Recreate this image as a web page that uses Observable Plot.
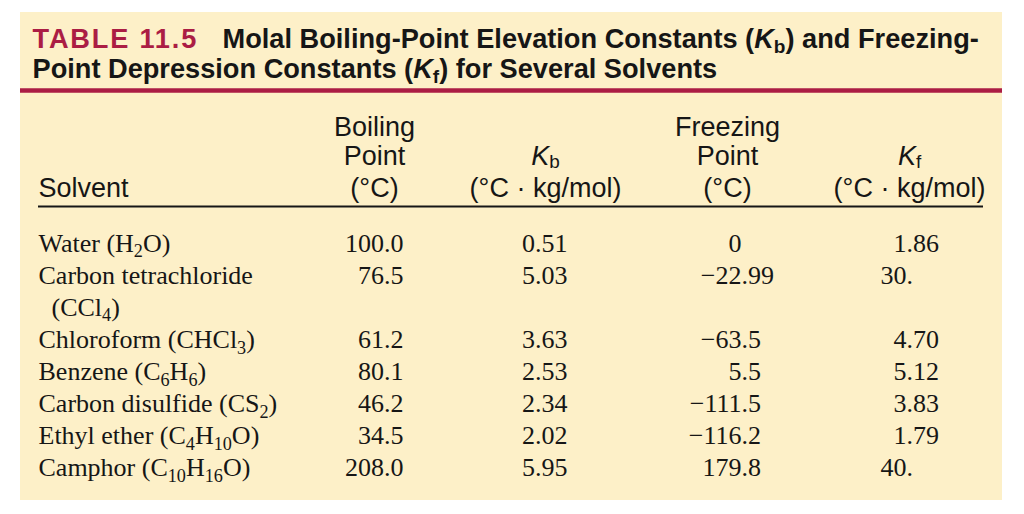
<!DOCTYPE html>
<html>
<head>
<meta charset="utf-8">
<script src="https://cdn.jsdelivr.net/npm/d3@7"></script>
<script src="https://cdn.jsdelivr.net/npm/@observablehq/plot@0.6"></script>
<style>
  html, body { margin: 0; padding: 0; background: #ffffff; }
  #chart svg { display: block; }
</style>
</head>
<body>
<div id="chart"></div>
<script>
// ---------------- data ----------------
const tableTag = "TABLE 11.5";
const titleLines = [
  "Molal Boiling-Point Elevation Constants (*K*_{b}) and Freezing-",
  "Point Depression Constants (*K*_{f}) for Several Solvents"
];
const headerSolvent = "Solvent";
const headerBoiling = ["Boiling", "Point", "(°C)"];
const headerKb = ["*K*_{b}", "(°C · kg/mol)"];
const headerFreezing = ["Freezing", "Point", "(°C)"];
const headerKf = ["*K*_{f}", "(°C · kg/mol)"];

const solvents = [
  "Water (H_{2}O)",
  "Carbon tetrachloride",
  "Chloroform (CHCl_{3})",
  "Benzene (C_{6}H_{6})",
  "Carbon disulfide (CS_{2})",
  "Ethyl ether (C_{4}H_{10}O)",
  "Camphor (C_{10}H_{16}O)"
];
const solventContinuation = [null, "(CCl_{4})", null, null, null, null, null];
const boilingPoint = ["100.0", "76.5", "61.2", "80.1", "46.2", "34.5", "208.0"];
const kbValues = ["0.51", "5.03", "3.63", "2.53", "2.34", "2.02", "5.95"];
const freezingPoint = ["0", "−22.99", "−63.5", "5.5", "−111.5", "−116.2", "179.8"];
const kfValues = ["1.86", "30.", "4.70", "5.12", "3.83", "1.79", "40."];

// ---------------- layout ----------------
const W = 1024, H = 514;
const cream = "#fdf0c8";
const crimson = "#ab1d44";
const ink = "#161616";
const sans = "'Liberation Sans', Arial, Helvetica, sans-serif";
const serif = "'Liberation Serif', 'Times New Roman', serif";
const panel = {x1: 20, x2: 1002, y1: 12, y2: 500};
const titleX = 32, titleRestX = 222, titleBase = [47, 77], titleSize = 27.2;
const redRule = {y: 90, x1: 20, x2: 1002};
const blackRule = {y: 206, x1: 38, x2: 983};
const headBase = [135, 164, 196], headSize = 27;
const colSolvent = 38, colBoilRight = 403, colKbRight = 567, colFreezeDec = 741, colKfDec = 906;
const headCenters = {boil: 374, kb: 545, freeze: 727, kf: 909};
const bodyFirst = 251, bodyStep = 32.1, bodySize = 26;

// line index of each solvent row (the CCl4 row wraps onto two lines)
const rowLine = [];
{
  let line = 0;
  solvents.forEach((s, i) => { rowLine.push(line); line += solventContinuation[i] ? 2 : 1; });
}
const baseOf = (line) => bodyFirst + line * bodyStep;

const rows = solvents.map((s, i) => ({
  name: s,
  cont: solventContinuation[i],
  bp: boilingPoint[i],
  kb: kbValues[i],
  fp: freezingPoint[i],
  kf: kfValues[i],
  y: baseOf(rowLine[i])
}));
const splitDec = (s) => {
  const k = s.indexOf(".");
  return k < 0 ? [s, ""] : [s.slice(0, k), s.slice(k)];
};
const contRows = rows.filter(d => d.cont).map(d => ({text: d.cont, y: d.y + bodyStep}));

const headerCentered = [
  ...headerBoiling.map((t, i) => ({text: t, x: headCenters.boil, y: headBase[i]})),
  ...headerKb.map((t, i) => ({text: t, x: headCenters.kb, y: headBase[i + 1]})),
  ...headerFreezing.map((t, i) => ({text: t, x: headCenters.freeze, y: headBase[i]})),
  ...headerKf.map((t, i) => ({text: t, x: headCenters.kf, y: headBase[i + 1]}))
];

const bodyText = (data, opts) => Plot.text(data, {
  lineAnchor: "bottom", fontFamily: serif, fontSize: bodySize, fill: ink, ...opts
});

const chart = Plot.plot({
  width: W, height: H,
  margin: 0,
  x: {type: "linear", domain: [0, W], range: [0, W], axis: null},
  y: {type: "linear", domain: [0, H], range: [0, H], axis: null},
  style: {background: "#ffffff", overflow: "visible"},
  marks: [
    Plot.rect([panel], {x1: "x1", x2: "x2", y1: "y1", y2: "y2", fill: cream}),
    Plot.ruleY([redRule], {y: "y", x1: "x1", x2: "x2", stroke: crimson, strokeWidth: 4.5}),
    Plot.ruleY([blackRule], {y: "y", x1: "x1", x2: "x2", stroke: ink, strokeWidth: 2}),
    // title
    Plot.text([tableTag], {x: () => titleX, y: () => titleBase[0], text: d => d, textAnchor: "start",
      lineAnchor: "bottom", fontFamily: sans, fontWeight: "bold", fontSize: titleSize, fill: crimson,
      className: "tag"}),
    Plot.text(titleLines, {x: (d, i) => i === 0 ? titleRestX : titleX, y: (d, i) => titleBase[i], text: d => d,
      textAnchor: "start", lineAnchor: "bottom", fontFamily: sans, fontWeight: "bold", fontSize: titleSize, fill: ink}),
    // header
    Plot.text([headerSolvent], {x: () => colSolvent, y: () => headBase[2], text: d => d, textAnchor: "start",
      lineAnchor: "bottom", fontFamily: sans, fontSize: headSize, fill: ink}),
    Plot.text(headerCentered, {x: "x", y: "y", text: "text", textAnchor: "middle",
      lineAnchor: "bottom", fontFamily: sans, fontSize: headSize, fill: ink, className: "head"}),
    // body
    bodyText(rows, {x: () => colSolvent, y: "y", text: "name", textAnchor: "start"}),
    bodyText(contRows, {x: () => colSolvent + 13, y: "y", text: "text", textAnchor: "start"}),
    bodyText(rows, {x: () => colBoilRight, y: "y", text: "bp", textAnchor: "end"}),
    bodyText(rows, {x: () => colKbRight, y: "y", text: "kb", textAnchor: "end"}),
    bodyText(rows, {x: () => colFreezeDec, y: "y", text: d => splitDec(d.fp)[0], textAnchor: "end"}),
    bodyText(rows, {x: () => colFreezeDec, y: "y", text: d => splitDec(d.fp)[1], textAnchor: "start"}),
    bodyText(rows, {x: () => colKfDec, y: "y", text: d => splitDec(d.kf)[0], textAnchor: "end"}),
    bodyText(rows, {x: () => colKfDec, y: "y", text: d => splitDec(d.kf)[1], textAnchor: "start"})
  ]
});

// turn *italic* and _{sub} markup into real tspans
const NS = "http://www.w3.org/2000/svg";
function richify(textEl, fs, shift) {
  const src = textEl.textContent;
  if (!/[*_]/.test(src)) return;
  const tokens = src.split(/(\*[^*]+\*|_\{[^}]*\})/).filter(t => t !== "");
  textEl.textContent = "";
  let pendingUp = 0;
  for (const t of tokens) {
    const ts = document.createElementNS(NS, "tspan");
    if (t.startsWith("_{")) {
      ts.textContent = t.slice(2, -1);
      ts.setAttribute("font-size", (fs * 0.7).toFixed(2));
      ts.setAttribute("dy", (fs * shift - pendingUp).toFixed(2));
      ts.setAttribute("font-style", "normal");
      pendingUp = fs * shift;
    } else {
      if (t.startsWith("*")) {
        ts.textContent = t.slice(1, -1);
        ts.setAttribute("font-style", "italic");
      } else {
        ts.textContent = t;
      }
      if (pendingUp) { ts.setAttribute("dy", (-pendingUp).toFixed(2)); pendingUp = 0; }
    }
    textEl.appendChild(ts);
  }
}
document.getElementById("chart").appendChild(chart);
chart.querySelectorAll("text").forEach(el => {
  const g = el.closest("[font-size]");
  const fs = parseFloat(el.getAttribute("font-size") || (g && g.getAttribute("font-size"))) ||
    parseFloat(getComputedStyle(el).fontSize) || 16;
  const inHead = !!el.closest(".head");
  richify(el, fs, inHead ? 0.14 : 0.22);
});
chart.querySelectorAll(".tag text").forEach(el => el.setAttribute("letter-spacing", "1.8"));
</script>
</body>
</html>
